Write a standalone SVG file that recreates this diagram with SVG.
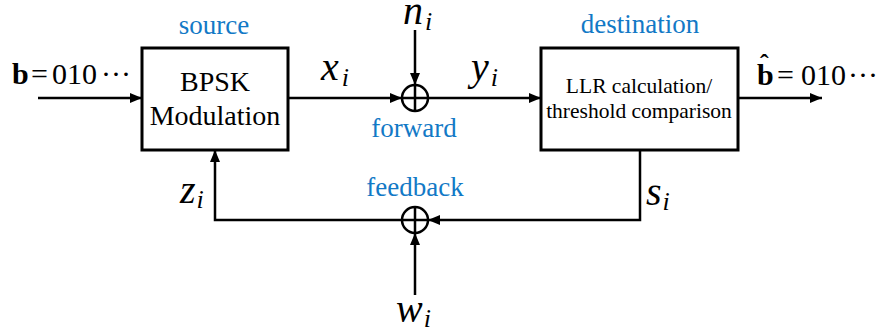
<svg xmlns="http://www.w3.org/2000/svg" width="879" height="334" viewBox="0 0 879 334">
<style>
.box{fill:#fff;stroke:#000;stroke-width:3}
.sum{fill:none;stroke:#000;stroke-width:2.5}
.ln{fill:none;stroke:#000;stroke-width:2.5}
text{font-family:"Liberation Serif","Tinos","DejaVu Serif",serif}
.t{fill:#000}
.blue{fill:#1279C6;font-size:27px;text-anchor:middle}
.m{font-style:italic;font-size:40px;fill:#000}
.sub{font-size:26px}
</style>
<defs>
<marker id="ah" markerUnits="userSpaceOnUse" markerWidth="13" markerHeight="11" refX="12" refY="5" orient="auto">
<path d="M0,0 L12,5 L0,10 z" fill="#000"/>
</marker>
</defs>

<g id="connectors">
<path class="ln" d="M38,98 H142" marker-end="url(#ah)"/>
<path class="ln" d="M288,98 H402" marker-end="url(#ah)"/>
<path class="ln" d="M415,30 V85" marker-end="url(#ah)"/>
<path class="ln" d="M428,98 H541" marker-end="url(#ah)"/>
<path class="ln" d="M738,98 H822" marker-end="url(#ah)"/>
<path class="ln" d="M640,150 V220 H428" marker-end="url(#ah)"/>
<path class="ln" d="M415,295 V233" marker-end="url(#ah)"/>
<path class="ln" d="M402,220 H215 V150" marker-end="url(#ah)"/>
</g>

<g id="source">
<rect class="box" x="142" y="48" width="146" height="102"/>
<text class="t" x="215" y="91" font-size="28" text-anchor="middle">BPSK</text>
<text class="t" x="215" y="125" font-size="28" text-anchor="middle">Modulation</text>
<text class="blue" x="214" y="34">source</text>
</g>

<g id="destination">
<rect class="box" x="541" y="48" width="197" height="102"/>
<text class="t" x="639" y="93" font-size="21.5" text-anchor="middle">LLR calculation/</text>
<text class="t" x="639" y="118" font-size="21.5" text-anchor="middle">threshold comparison</text>
<text class="blue" x="640" y="33">destination</text>
</g>

<g id="forward-sum">
<circle class="sum" cx="415" cy="98" r="13"/>
<path class="sum" d="M402,98 H428 M415,85 V111"/>
<text class="blue" x="414" y="137">forward</text>
</g>

<g id="feedback-sum">
<circle class="sum" cx="415" cy="220" r="13"/>
<path class="sum" d="M402,220 H428 M415,207 V233"/>
<text class="blue" x="415" y="196">feedback</text>
</g>

<g id="input-label">
<text class="t" y="84" font-size="30"><tspan x="12" font-weight="bold">b</tspan><tspan x="31">=</tspan><tspan x="52">010</tspan><tspan x="101">···</tspan></text>
</g>

<g id="output-label">
<text class="t" y="85" font-size="30"><tspan x="757" font-weight="bold">b</tspan><tspan x="777">=</tspan><tspan x="801">010</tspan><tspan x="848">···</tspan><tspan x="760" y="72" font-size="26" font-weight="bold">ˆ</tspan></text>
</g>

<g id="signal-labels">
<text class="m" x="321" y="80">x<tspan class="sub" dx="3" dy="6">i</tspan></text>
<text class="m" x="403" y="24" font-size="38">n<tspan class="sub" dx="2" dy="6">i</tspan></text>
<text class="m" x="471" y="80">y<tspan class="sub" dx="2" dy="6">i</tspan></text>
<text class="m" x="180" y="203">z<tspan class="sub" dx="1" dy="5">i</tspan></text>
<text class="m" x="646" y="205">s<tspan class="sub" dx="1" dy="5">i</tspan></text>
<text class="m" x="396" y="322">w<tspan class="sub" dx="1" dy="5">i</tspan></text>
</g>
</svg>
